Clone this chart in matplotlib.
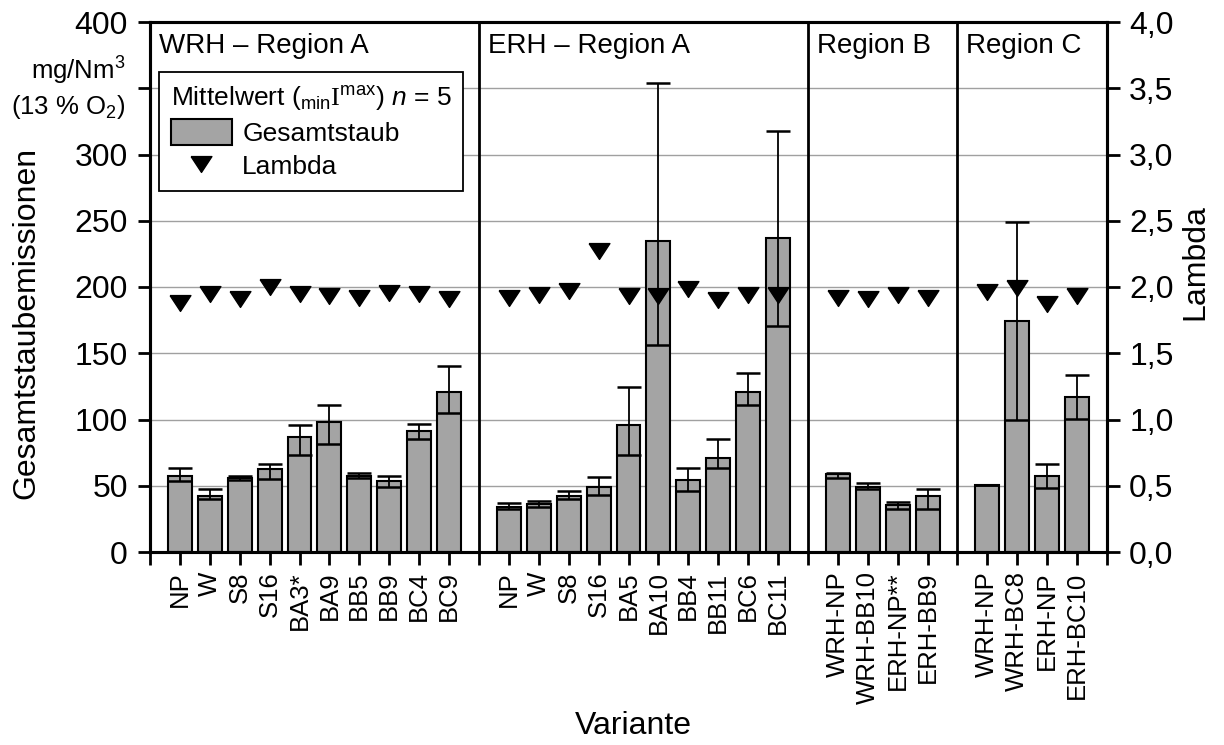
import matplotlib.pyplot as plt
from matplotlib.patches import Patch
from matplotlib.lines import Line2D
from matplotlib.ticker import FuncFormatter, MultipleLocator

plt.rcParams['font.family'] = ['Liberation Sans', 'DejaVu Sans']
plt.rcParams['mathtext.fontset'] = 'custom'
plt.rcParams['mathtext.rm'] = 'Liberation Sans'
plt.rcParams['mathtext.it'] = 'Liberation Sans:italic'
plt.rcParams['mathtext.tt'] = 'Liberation Serif'

# Daten
panels = ["WRH – Region A", "ERH – Region A", "Region B", "Region C"]
varianten = [
    ["NP", "W", "S8", "S16", "BA3*", "BA9", "BB5", "BB9", "BC4", "BC9"],
    ["NP", "W", "S8", "S16", "BA5", "BA10", "BB4", "BB11", "BC6", "BC11"],
    ["WRH-NP", "WRH-BB10", "ERH-NP**", "ERH-BB9"],
    ["WRH-NP", "WRH-BC8", "ERH-NP", "ERH-BC10"],
]
staub_mittel = [57.6, 42.5, 56.0, 62.4, 87.0, 98.3, 57.3, 53.5, 91.3, 120.9,
                34.2, 36.0, 42.3, 48.9, 96.1, 234.5, 54.2, 71.2, 120.7, 237.0,
                58.5, 49.4, 35.4, 42.3,
                50.6, 174.2, 57.5, 117.0]
staub_min = [53.5, 39.7, 54.0, 55.1, 73.2, 81.5, 55.6, 49.0, 85.0, 104.6,
             32.2, 34.2, 39.8, 42.8, 73.3, 155.9, 46.4, 63.1, 111.0, 170.3,
             55.5, 47.3, 32.2, 32.2,
             50.6, 100.0, 48.1, 100.5]
staub_max = [63.1, 47.5, 57.0, 66.6, 96.0, 110.6, 59.3, 57.3, 96.5, 140.1,
             36.8, 38.8, 45.9, 56.3, 124.7, 354.1, 63.6, 85.4, 135.1, 318.1,
             60.0, 52.4, 37.5, 47.3,
             50.6, 249.4, 66.3, 133.4]
lambda_mittel = [1.88, 1.95, 1.91, 2.00, 1.95, 1.93, 1.92, 1.955, 1.95, 1.91,
                 1.92, 1.94, 1.97, 2.27, 1.93, 1.93, 1.985, 1.90, 1.94, 1.94,
                 1.92, 1.91, 1.94, 1.92,
                 1.96, 1.99, 1.87, 1.93]

# x-Positionen: je Gruppe ein leerer Platz als Trenner
pos, labels, trenner = [], [], []
x = 1
for gruppe in varianten:
    for name in gruppe:
        pos.append(x)
        labels.append(name)
        x += 1
    trenner.append(x)
    x += 1
x_end = trenner[-1]
trenner = trenner[:-1]
starts = [0] + trenner

grau = '#a4a4a4'
tri = [(-1, 0.76), (1, 0.76), (0, -0.76), (-1, 0.76)]

fig = plt.figure(figsize=(12.24, 7.45), dpi=100)
ax = fig.add_axes([150 / 1224, 1 - 552 / 745, (1107 - 150) / 1224, 530 / 745])

ax.bar(pos, staub_mittel, width=0.8, color=grau, edgecolor='black', linewidth=1.5, zorder=2)
err_lo = [m - lo for m, lo in zip(staub_mittel, staub_min)]
err_hi = [hi - m for m, hi in zip(staub_mittel, staub_max)]
ax.errorbar(pos, staub_mittel, yerr=[err_lo, err_hi], fmt='none', ecolor='black',
            elinewidth=1.3, capsize=8.5, capthick=1.8, zorder=3)

for t in trenner:
    ax.axvline(t, color='black', lw=2, zorder=4)

ax.set_xlim(0, x_end)
ax.set_ylim(0, 400)
ax.yaxis.set_major_locator(MultipleLocator(50))
# bei 350 steht die Einheit statt einer Zahl
ax.yaxis.set_major_formatter(FuncFormatter(lambda v, p: '' if v == 350 else f'{v:.0f}'))
ax.yaxis.grid(True, color='#a0a0a0', lw=1)
ax.set_axisbelow(True)

ticks = list(range(0, x_end + 1))
ticklabels = [labels[pos.index(t)] if t in pos else '' for t in ticks]
ax.set_xticks(ticks)
ax.set_xticklabels(ticklabels, rotation=90)
ax.tick_params(axis='x', direction='out', length=9, width=2, labelsize=18.5, pad=5)
ax.tick_params(axis='y', direction='out', length=9, width=2, labelsize=23, pad=7)

for name, s in zip(panels, starts):
    ax.text(s + 0.3, 0.979, name, transform=ax.get_xaxis_transform(),
            ha='left', va='top', fontsize=20)

ax2 = ax.twinx()
ax2.plot(pos, lambda_mittel, linestyle='none', marker=tri, ms=15, color='black', zorder=5)
ax2.set_ylim(0, 4)
ax2.yaxis.set_major_locator(MultipleLocator(0.5))
ax2.yaxis.set_major_formatter(FuncFormatter(lambda v, p: f'{v:.1f}'.replace('.', ',')))
ax2.tick_params(axis='y', direction='out', length=9, width=2, labelsize=23, pad=7)

for a in (ax, ax2):
    for sp in a.spines.values():
        sp.set_linewidth(2.2)

handles = [Patch(facecolor=grau, edgecolor='black', linewidth=1.5, label='Gesamtstaub'),
           Line2D([], [], linestyle='none', marker=tri, ms=15, color='black', label='Lambda')]
leg = ax2.legend(handles=handles,
                 title=r'Mittelwert ($_{\mathrm{min}}\mathtt{I}^{\mathrm{max}}$) $n$ = 5',
                 loc='upper left', bbox_to_anchor=(159 / 1224, 1 - 72 / 745),
                 bbox_transform=fig.transFigure, borderaxespad=0, fontsize=19,
                 title_fontsize=19, fancybox=False, edgecolor='black', framealpha=1,
                 alignment='left', handlelength=2.3, handleheight=1.1,
                 handletextpad=0.4, labelspacing=0.25, borderpad=0.45)
leg.get_frame().set_linewidth(1.3)

fig.text(125 / 1224, 1 - 88 / 745, 'mg/Nm$^3$\n(13 % O$_2$)', ha='right', va='center',
         multialignment='right', fontsize=18.5, linespacing=1.25)
fig.text(26 / 1224, 1 - 323 / 745, 'Gesamtstaubemissionen', rotation=90,
         ha='center', va='center', fontsize=23)
fig.text(1195 / 1224, 1 - 262 / 745, 'Lambda', rotation=90,
         ha='center', va='center', fontsize=23)
fig.text(633 / 1224, 1 - 726 / 745, 'Variante', ha='center', va='center', fontsize=23)

fig.savefig('out.png', dpi=100)
